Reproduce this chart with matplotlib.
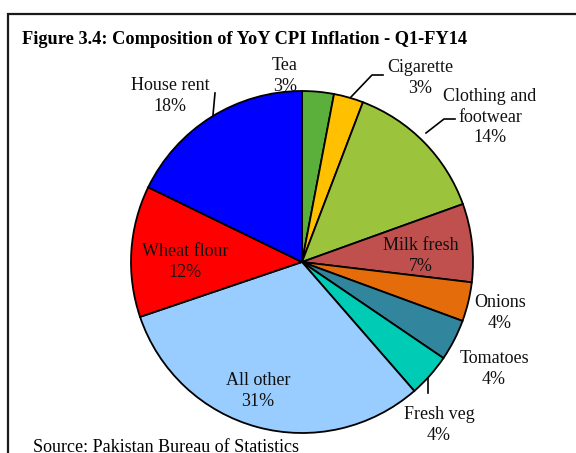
import matplotlib
matplotlib.use('Agg')
import matplotlib.pyplot as plt
from matplotlib.patches import Rectangle

# data (clockwise from 12 o'clock)
categories = ['Tea', 'Cigarette', 'Clothing and\nfootwear', 'Milk fresh', 'Onions',
              'Tomatoes', 'Fresh veg', 'All other', 'Wheat flour', 'House rent']
shares = [3.0, 2.8, 13.7, 7.4, 3.7, 3.9, 4.1, 31.2, 12.4, 17.8]
colors = ['#5BAF3B', '#FFC000', '#9BC43C', '#C0504D', '#E46C0A',
          '#31859C', '#00CCB6', '#99CCFF', '#FF0000', '#0000FF']

title = 'Figure 3.4: Composition of YoY CPI Inflation - Q1-FY14'
source = 'Source: Pakistan Bureau of Statistics'

W, H = 576, 453
fig = plt.figure(figsize=(W / 100, H / 100), dpi=100)
ax = fig.add_axes([0, 0, 1, 1])
ax.axis('off')

serif = 'Liberation Serif'

# frame around the figure (runs off the right / bottom edge)
fig.patches.append(Rectangle((8 / W, -0.1), 1.2, (H - 14) / H + 0.1,
                             transform=fig.transFigure, fill=False,
                             edgecolor='#1a1a1a', linewidth=1.6))

# pixel helper: y measured from the top
def py(y):
    return H - y

cx, cy, r = 302, 262, 171
ax.pie(shares, colors=colors, startangle=90, counterclock=False,
       center=(cx, py(cy)), radius=r,
       wedgeprops=dict(edgecolor='black', linewidth=1.3))
ax.set_xlim(0, W)
ax.set_ylim(0, H)
ax.set_aspect('auto')

# label centres in pixels (x, y from top)
label_pos = [(285, 76), (420, 78), (490, 117), (421, 256), (500, 313),
             (494, 369), (439, 425), (258, 391), (185, 262), (170, 96)]

for name, val, (lx, ly) in zip(categories, shares, label_pos):
    ax.text(lx, py(ly), '%s\n%d%%' % (name, round(val)), ha='center', va='center',
            fontsize=13, family=serif, linespacing=1.3, color='#111111')

# leader lines
leaders = [
    [(351, 97), (372, 75), (383, 75)],
    [(426, 133), (444, 119), (455, 119)],
    [(428, 378), (428, 393)],
    [(215, 93), (213, 115)],
]
for pts in leaders:
    ax.plot([p[0] for p in pts], [py(p[1]) for p in pts], color='black', lw=1.2)

ax.text(22, py(40), title, ha='left', va='center', fontsize=13.2,
        family=serif, fontweight='bold')
ax.text(33, py(448), source, ha='left', va='center', fontsize=13, family=serif)

fig.savefig('out.png', dpi=100)
